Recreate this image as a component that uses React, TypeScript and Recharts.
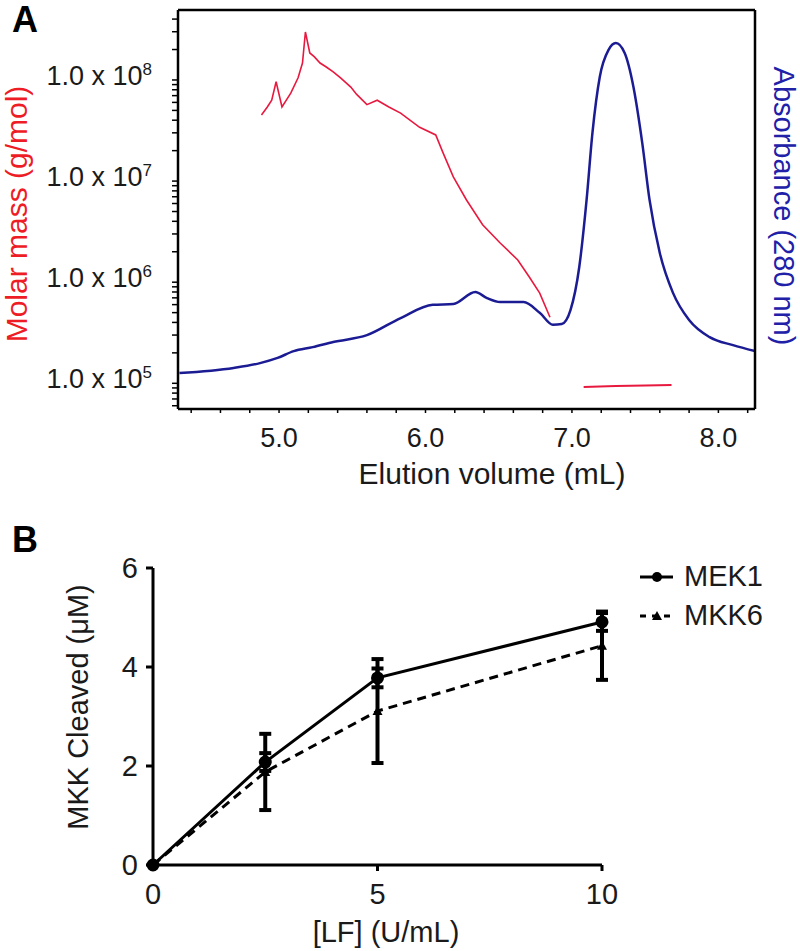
import { LineChart, Line, XAxis, YAxis, ErrorBar, Legend } from "recharts"

const FONT = "'Liberation Sans', Arial, Helvetica, sans-serif"
const RED = "#e8193f"
const BLUE = "#1b1b94"

// ---- Panel A: SEC-MALS trace ----
const absVolume = [4.32, 4.69, 4.87, 4.99, 5.1, 5.23, 5.37, 5.6, 5.83, 6.05, 6.19, 6.34, 6.42, 6.51, 6.67, 6.78, 6.87, 6.93, 6.99, 7.05, 7.1, 7.14, 7.19, 7.25, 7.3, 7.36, 7.42, 7.48, 7.53, 7.6, 7.69, 7.8, 7.94, 8.1, 8.25]
const absValue = [9.0, 10.3, 11.5, 12.8, 14.5, 15.5, 16.8, 18.5, 22.8, 26.1, 26.3, 29.3, 27.8, 26.8, 26.8, 24.1, 21.1, 21.3, 24.8, 35.6, 52.4, 69.2, 83.2, 90.0, 91.7, 89.2, 80.7, 66.7, 52.4, 39.1, 29.1, 22.3, 18.0, 16.0, 14.5]

const massVolume = [4.88, 4.92, 4.95, 4.98, 5.02, 5.08, 5.13, 5.16, 5.18, 5.21, 5.24, 5.28, 5.32, 5.37, 5.42, 5.49, 5.53, 5.6, 5.67, 5.75, 5.83, 5.96, 6.07, 6.12, 6.19, 6.28, 6.39, 6.51, 6.63, 6.71, 6.78, 6.85]
const massValue = [4.5e7, 5.4e7, 6.3e7, 9.6e7, 5.4e7, 7.4e7, 1.05e8, 1.47e8, 2.98e8, 1.85e8, 1.7e8, 1.47e8, 1.35e8, 1.2e8, 1.05e8, 8.5e7, 7.2e7, 5.7e7, 6.3e7, 5.4e7, 4.7e7, 3.4e7, 2.86e7, 1.9e7, 1.1e7, 6.5e6, 3.7e6, 2.44e6, 1.66e6, 1.12e6, 7.8e5, 4.5e5]

const peakMassVolume = [7.08, 7.3, 7.5, 7.68]
const peakMassValue = [92000, 94000, 95000, 96000]

const volumeTicks = [4.4, 4.6, 4.8, 5.0, 5.2, 5.4, 5.6, 5.8, 6.0, 6.2, 6.4, 6.6, 6.8, 7.0, 7.2, 7.4, 7.6, 7.8, 8.0, 8.2]
const massTicks = [
  60000, 70000, 80000, 90000,
  100000, 200000, 300000, 400000, 500000, 600000, 700000, 800000, 900000,
  1000000, 2000000, 3000000, 4000000, 5000000, 6000000, 7000000, 8000000, 9000000,
  10000000, 20000000, 30000000, 40000000, 50000000, 60000000, 70000000, 80000000, 90000000,
  100000000, 200000000, 300000000, 400000000,
]

// ---- Panel B: MKK cleavage ----
const lfDose = [0, 2.5, 5, 10]
const mek1 = [0, 2.08, 3.78, 4.91]
const mek1Err = [0, 0.18, 0.19, 0.18]
const mkk6 = [0, 1.88, 3.11, 4.43]
const mkk6Err = [0, 0.77, 1.05, 0.69]
const seriesNames = ["MEK1", "MKK6"]

const absData = absVolume.map((v, i) => ({ volume: v, abs: absValue[i] }))
const massData = massVolume.map((v, i) => ({ volume: v, mass: massValue[i] }))
const peakMassData = peakMassVolume.map((v, i) => ({ volume: v, mass: peakMassValue[i] }))
const mek1Data = lfDose.map((d, i) => ({ dose: d, value: mek1[i], err: mek1Err[i] }))
const mkk6Data = lfDose.map((d, i) => ({ dose: d, value: mkk6[i], err: mkk6Err[i] }))

function MassTick(props: any) {
  const { x, y, payload } = props
  const exp = Math.round(Math.log10(payload.value))
  if (Math.abs(payload.value - Math.pow(10, exp)) > 1) return <g />
  return (
    <text x={x} y={y + 5} textAnchor="end" fontSize={27} fill="#1a1a1a" fontFamily={FONT}>
      1.0 x 10
      <tspan dy={-10} fontSize={17}>{exp}</tspan>
    </text>
  )
}

function TriangleDot(props: any) {
  const { cx, cy } = props
  if (cx == null || cy == null) return <g />
  return <path d={`M${cx},${cy - 5}L${cx + 5},${cy + 4}L${cx - 5},${cy + 4}Z`} fill="#000" />
}

function LegendBox(props: any) {
  const items = props.payload || []
  return (
    <div style={{ fontFamily: FONT, fontSize: 29, color: "#1a1a1a" }}>
      {items.map((item: any, i: number) => (
        <div key={i} style={{ display: "flex", alignItems: "center", height: 39 }}>
          <svg width={44} height={20} style={{ marginRight: 4 }}>
            {i === 0 ? (
              <>
                <line x1={4} y1={10} x2={37} y2={10} stroke="#000" strokeWidth={3} />
                <circle cx={21} cy={10} r={5} fill="#000" />
              </>
            ) : (
              <>
                <line x1={4} y1={10} x2={37} y2={10} stroke="#000" strokeWidth={3} strokeDasharray="6 6" />
                <path d="M21,5L26,14L16,14Z" fill="#000" />
              </>
            )}
          </svg>
          <span>{item.value || seriesNames[i]}</span>
        </div>
      ))}
    </div>
  )
}

const fmtVolume = (v: number) => (Math.abs(v - Math.round(v)) < 1e-9 ? v.toFixed(1) : "")

export default function App() {
  return (
    <div style={{ position: "absolute", left: 0, top: 0, width: 800, height: 951, background: "#fff" }}>
      <div style={{ position: "absolute", left: 12, top: 2, fontFamily: FONT, fontWeight: "bold", fontSize: 36, lineHeight: "36px" }}>A</div>
      <div style={{ position: "absolute", left: 12, top: 522, fontFamily: FONT, fontWeight: "bold", fontSize: 36, lineHeight: "36px" }}>B</div>

      <div style={{ position: "absolute", left: 0, top: 0 }}>
        <LineChart width={800} height={500} margin={{ top: 9, right: 0, bottom: 0, left: 0 }}>
          <XAxis
            xAxisId="bottom"
            dataKey="volume"
            type="number"
            domain={[4.31, 8.25]}
            allowDataOverflow
            ticks={volumeTicks}
            interval={0}
            tickFormatter={fmtVolume}
            height={91}
            tickSize={4}
            tickMargin={15}
            stroke="#000"
            axisLine={{ stroke: "#000", strokeWidth: 2.5 }}
            tickLine={{ stroke: "#000", strokeWidth: 1.5 }}
            tick={{ fontSize: 27, fill: "#1a1a1a", fontFamily: FONT }}
            label={() => (
              <text x={492} y={484} textAnchor="middle" fontSize={30} fill="#1a1a1a" fontFamily={FONT}>
                Elution volume (mL)
              </text>
            )}
          />
          <XAxis
            xAxisId="top"
            orientation="top"
            type="number"
            domain={[4.31, 8.25]}
            height={1}
            tick={false}
            tickLine={false}
            axisLine={{ stroke: "#000", strokeWidth: 2.5 }}
          />
          <YAxis
            yAxisId="mass"
            scale="log"
            domain={[55700, 492000000]}
            allowDataOverflow
            ticks={massTicks}
            interval={0}
            width={178}
            tickSize={6}
            tickMargin={20}
            axisLine={{ stroke: "#000", strokeWidth: 2.5 }}
            tickLine={{ stroke: "#000", strokeWidth: 1.5 }}
            tick={(p: any) => <MassTick {...p} />}
            label={() => (
              <text x={16} y={214} dy="0.35em" transform="rotate(-90 16 214)" textAnchor="middle" fontSize={30} fill="#ee1c25" fontFamily={FONT}>
                Molar mass (g/mol)
              </text>
            )}
          />
          <YAxis
            yAxisId="abs"
            orientation="right"
            domain={[0, 100]}
            allowDataOverflow
            width={45}
            tick={false}
            tickLine={false}
            axisLine={{ stroke: "#000", strokeWidth: 2.5 }}
            label={() => (
              <text x={784} y={206} dy="0.35em" transform="rotate(90 784 206)" textAnchor="middle" fontSize={29} fill="#2020a8" fontFamily={FONT}>
                Absorbance (280 nm)
              </text>
            )}
          />
          <Line xAxisId="bottom" yAxisId="abs" data={absData} dataKey="abs" type="monotone" stroke={BLUE} strokeWidth={2.5} dot={false} isAnimationActive={false} />
          <Line xAxisId="bottom" yAxisId="mass" data={massData} dataKey="mass" type="linear" stroke={RED} strokeWidth={1.6} dot={false} isAnimationActive={false} />
          <Line xAxisId="bottom" yAxisId="mass" data={peakMassData} dataKey="mass" type="linear" stroke={RED} strokeWidth={2} dot={false} isAnimationActive={false} />
        </LineChart>
      </div>

      <div style={{ position: "absolute", left: 0, top: 500 }}>
        <LineChart width={800} height={451} margin={{ top: 68, right: 198, bottom: 0, left: 0 }}>
          <XAxis
            dataKey="dose"
            type="number"
            domain={[0, 10]}
            ticks={[0, 5, 10]}
            interval={0}
            height={86}
            tickSize={6}
            tickMargin={12}
            axisLine={{ stroke: "#000", strokeWidth: 3 }}
            tickLine={{ stroke: "#000", strokeWidth: 3 }}
            tick={{ fontSize: 29, fill: "#1a1a1a", fontFamily: FONT }}
            label={() => (
              <text x={386} y={442} textAnchor="middle" fontSize={29} fill="#1a1a1a" fontFamily={FONT}>
                [LF] (U/mL)
              </text>
            )}
          />
          <YAxis
            domain={[0, 6]}
            ticks={[0, 2, 4, 6]}
            interval={0}
            width={153}
            tickSize={7}
            tickMargin={8}
            axisLine={{ stroke: "#000", strokeWidth: 3 }}
            tickLine={{ stroke: "#000", strokeWidth: 3 }}
            tick={{ fontSize: 29, fill: "#1a1a1a", fontFamily: FONT }}
            label={() => (
              <text x={78} y={207} dy="0.35em" transform="rotate(-90 78 207)" textAnchor="middle" fontSize={29} fill="#1a1a1a" fontFamily={FONT}>
                MKK Cleaved (μM)
              </text>
            )}
          />
          <Legend layout="vertical" verticalAlign="middle" align="center" wrapperStyle={{ left: 636, top: 57, width: 160 }} content={LegendBox} />
          <Line data={mek1Data} dataKey="value" name="MEK1" stroke="#000" strokeWidth={3} dot={{ r: 5, fill: "#000", stroke: "#000" }} isAnimationActive={false}>
            <ErrorBar dataKey="err" width={6} strokeWidth={4} stroke="#000" />
          </Line>
          <Line data={mkk6Data} dataKey="value" name="MKK6" stroke="#000" strokeWidth={3} strokeDasharray="9 6" dot={(p: any) => <TriangleDot key={p.index} {...p} />} isAnimationActive={false}>
            <ErrorBar dataKey="err" width={6} strokeWidth={4} stroke="#000" />
          </Line>
        </LineChart>
      </div>
    </div>
  )
}
